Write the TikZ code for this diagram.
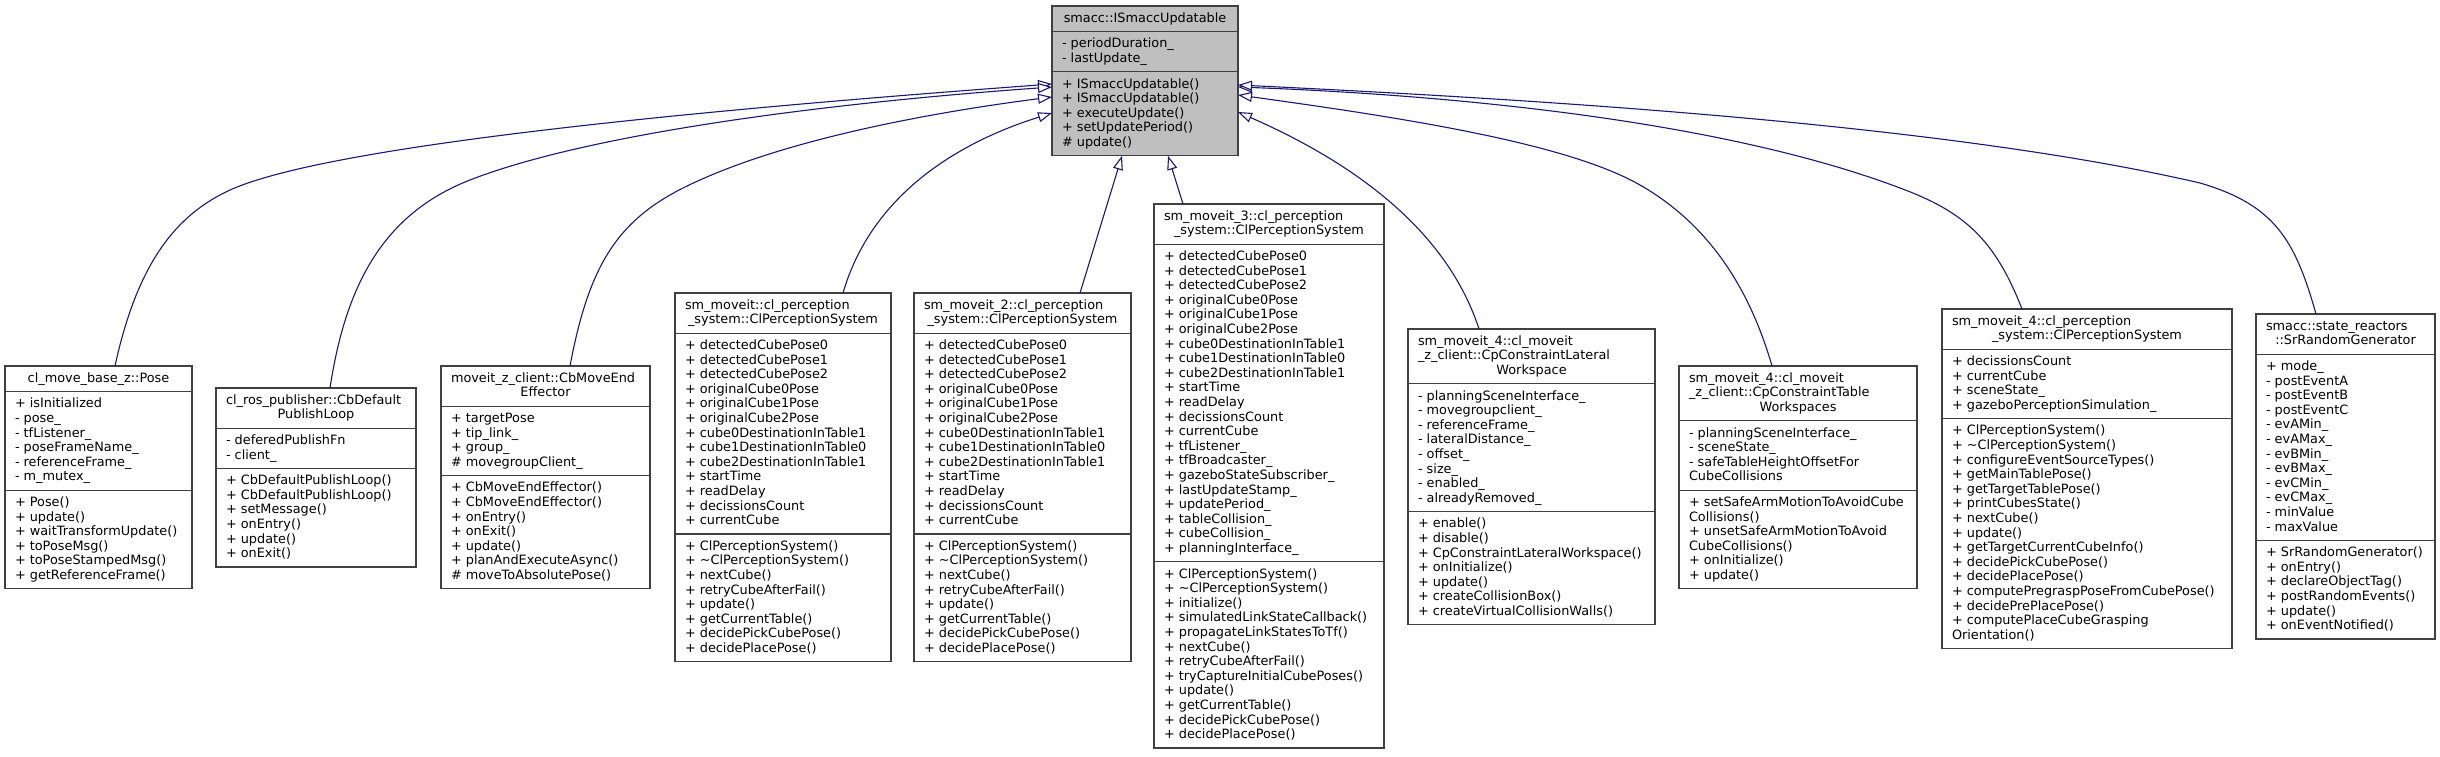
\documentclass[tikz,border=0pt]{standalone}
\usepackage{fontspec}
\setmainfont{DejaVu Sans}
\usetikzlibrary{arrows.meta,calc}
\definecolor{edgeblue}{HTML}{191970}
\definecolor{boxline}{HTML}{404040}
\definecolor{basefill}{HTML}{BFBFBF}
\newcommand\cls[1]{\vtop{\baselineskip=14.6pt\lineskiplimit=-\maxdimen\halign{##\hfil\cr#1\crcr}}}
\newcommand\ClassBox[8]{%
  \pgfmathsetmacro\hA{14.6*#5+11}%
  \pgfmathsetmacro\hB{14.6*#6+11}%
  \pgfmathsetmacro\hC{14.6*#7+11}%
  \pgfmathsetmacro\hT{\hA+\hB+\hC}%
  \node[cbox,fill=#8,minimum width=#4pt,minimum height=\hT pt,anchor=north west] (#1) at (#2,#3) {};
  \draw[cdiv] (#2,#3+\hA) -- (#2+#4,#3+\hA);
  \draw[cdiv] (#2,#3+\hA+\hB) -- (#2+#4,#3+\hA+\hB);
  \coordinate (#1-h) at (#2+10,#3+16.3);
  \coordinate (#1-hc) at (#2+#4/2,#3+16.3);
  \coordinate (#1-a) at (#2+10,#3+\hA+16.3);
  \coordinate (#1-m) at (#2+10,#3+\hA+\hB+16.3);
}
\begin{document}
\begin{tikzpicture}[x=1pt,y=-1pt,
  cbox/.style={draw=boxline,line width=1.3pt,inner sep=0pt,outer sep=0pt,rectangle},
  cdiv/.style={draw=boxline,line width=1.3pt},
  txt/.style={inner sep=0pt,outer sep=0pt,font=\fontsize{12.85}{14.6}\selectfont},
  inh/.style={draw=edgeblue,line width=1.1pt,-{Triangle[length=14pt,width=10pt,fill=white]}}]
\useasboundingbox[fill=white] (0,0) rectangle (2440,756);

% ---------- base class ----------
\ClassBox{B0}{1052}{6}{186}{1}{2}{5}{basefill}
\node[txt,anchor=base] (B0t) at (B0-hc) {smacc::ISmaccUpdatable};
\node[txt,anchor=base west] (B0a) at (B0-a) {\cls{- periodDuration\_\cr - lastUpdate\_}};
\node[txt,anchor=base west] (B0m) at (B0-m) {\cls{+ ISmaccUpdatable()\cr + ISmaccUpdatable()\cr + executeUpdate()\cr + setUpdatePeriod()\cr \# update()}};

% ---------- B1 ----------
\ClassBox{B1}{5}{366}{187}{1}{6}{6}{white}
\node[txt,anchor=base] (B1t) at (B1-hc) {cl\_move\_base\_z::Pose};
\node[txt,anchor=base west] (B1a) at (B1-a) {\cls{+ isInitialized\cr - pose\_\cr - tfListener\_\cr - poseFrameName\_\cr - referenceFrame\_\cr - m\_mutex\_}};
\node[txt,anchor=base west] (B1m) at (B1-m) {\cls{+ Pose()\cr + update()\cr + waitTransformUpdate()\cr + toPoseMsg()\cr + toPoseStampedMsg()\cr + getReferenceFrame()}};

% ---------- B2 ----------
\ClassBox{B2}{216}{388}{200}{2}{2}{6}{white}
\node[txt,anchor=base west] (B2t1) at (B2-h) {cl\_ros\_publisher::CbDefault};
\node[txt,anchor=base] (B2t2) at ($(B2-hc)+(0,14.6)$) {PublishLoop};
\node[txt,anchor=base west] (B2a) at (B2-a) {\cls{- deferedPublishFn\cr - client\_}};
\node[txt,anchor=base west] (B2m) at (B2-m) {\cls{+ CbDefaultPublishLoop()\cr + CbDefaultPublishLoop()\cr + setMessage()\cr + onEntry()\cr + update()\cr + onExit()}};

% ---------- B3 ----------
\ClassBox{B3}{441}{366}{209}{2}{4}{7}{white}
\node[txt,anchor=base west] (B3t1) at (B3-h) {moveit\_z\_client::CbMoveEnd};
\node[txt,anchor=base] (B3t2) at ($(B3-hc)+(0,14.6)$) {Effector};
\node[txt,anchor=base west] (B3a) at (B3-a) {\cls{+ targetPose\cr + tip\_link\_\cr + group\_\cr \# movegroupClient\_}};
\node[txt,anchor=base west] (B3m) at (B3-m) {\cls{+ CbMoveEndEffector()\cr + CbMoveEndEffector()\cr + onEntry()\cr + onExit()\cr + update()\cr + planAndExecuteAsync()\cr \# moveToAbsolutePose()}};

% ---------- B4 ----------
\ClassBox{B4}{675}{293}{216}{2}{13}{8}{white}
\node[txt,anchor=base west] (B4t1) at (B4-h) {sm\_moveit::cl\_perception};
\node[txt,anchor=base] (B4t2) at ($(B4-hc)+(0,14.6)$) {\_system::ClPerceptionSystem};
\node[txt,anchor=base west] (B4a) at (B4-a) {\cls{+ detectedCubePose0\cr + detectedCubePose1\cr + detectedCubePose2\cr + originalCube0Pose\cr + originalCube1Pose\cr + originalCube2Pose\cr + cube0DestinationInTable1\cr + cube1DestinationInTable0\cr + cube2DestinationInTable1\cr + startTime\cr + readDelay\cr + decissionsCount\cr + currentCube}};
\node[txt,anchor=base west] (B4m) at (B4-m) {\cls{+ ClPerceptionSystem()\cr + \textasciitilde ClPerceptionSystem()\cr + nextCube()\cr + retryCubeAfterFail()\cr + update()\cr + getCurrentTable()\cr + decidePickCubePose()\cr + decidePlacePose()}};

% ---------- B5 ----------
\ClassBox{B5}{914}{293}{217}{2}{13}{8}{white}
\node[txt,anchor=base west] (B5t1) at (B5-h) {sm\_moveit\_2::cl\_perception};
\node[txt,anchor=base] (B5t2) at ($(B5-hc)+(0,14.6)$) {\_system::ClPerceptionSystem};
\node[txt,anchor=base west] (B5a) at (B5-a) {\cls{+ detectedCubePose0\cr + detectedCubePose1\cr + detectedCubePose2\cr + originalCube0Pose\cr + originalCube1Pose\cr + originalCube2Pose\cr + cube0DestinationInTable1\cr + cube1DestinationInTable0\cr + cube2DestinationInTable1\cr + startTime\cr + readDelay\cr + decissionsCount\cr + currentCube}};
\node[txt,anchor=base west] (B5m) at (B5-m) {\cls{+ ClPerceptionSystem()\cr + \textasciitilde ClPerceptionSystem()\cr + nextCube()\cr + retryCubeAfterFail()\cr + update()\cr + getCurrentTable()\cr + decidePickCubePose()\cr + decidePlacePose()}};

% ---------- B6 ----------
\ClassBox{B6}{1154}{204}{230}{2}{21}{12}{white}
\node[txt,anchor=base west] (B6t1) at (B6-h) {sm\_moveit\_3::cl\_perception};
\node[txt,anchor=base] (B6t2) at ($(B6-hc)+(0,14.6)$) {\_system::ClPerceptionSystem};
\node[txt,anchor=base west] (B6a) at (B6-a) {\cls{+ detectedCubePose0\cr + detectedCubePose1\cr + detectedCubePose2\cr + originalCube0Pose\cr + originalCube1Pose\cr + originalCube2Pose\cr + cube0DestinationInTable1\cr + cube1DestinationInTable0\cr + cube2DestinationInTable1\cr + startTime\cr + readDelay\cr + decissionsCount\cr + currentCube\cr + tfListener\_\cr + tfBroadcaster\_\cr + gazeboStateSubscriber\_\cr + lastUpdateStamp\_\cr + updatePeriod\_\cr + tableCollision\_\cr + cubeCollision\_\cr + planningInterface\_}};
\node[txt,anchor=base west] (B6m) at (B6-m) {\cls{+ ClPerceptionSystem()\cr + \textasciitilde ClPerceptionSystem()\cr + initialize()\cr + simulatedLinkStateCallback()\cr + propagateLinkStatesToTf()\cr + nextCube()\cr + retryCubeAfterFail()\cr + tryCaptureInitialCubePoses()\cr + update()\cr + getCurrentTable()\cr + decidePickCubePose()\cr + decidePlacePose()}};

% ---------- B7 ----------
\ClassBox{B7}{1408}{329}{247}{3}{8}{7}{white}
\node[txt,anchor=base west] (B7t1) at (B7-h) {sm\_moveit\_4::cl\_moveit};
\node[txt,anchor=base west] (B7t2) at ($(B7-h)+(0,14.6)$) {\_z\_client::CpConstraintLateral};
\node[txt,anchor=base] (B7t3) at ($(B7-hc)+(0,29.2)$) {Workspace};
\node[txt,anchor=base west] (B7a) at (B7-a) {\cls{- planningSceneInterface\_\cr - movegroupclient\_\cr - referenceFrame\_\cr - lateralDistance\_\cr - offset\_\cr - size\_\cr - enabled\_\cr - alreadyRemoved\_}};
\node[txt,anchor=base west] (B7m) at (B7-m) {\cls{+ enable()\cr + disable()\cr + CpConstraintLateralWorkspace()\cr + onInitialize()\cr + update()\cr + createCollisionBox()\cr + createVirtualCollisionWalls()}};

% ---------- B8 ----------
\ClassBox{B8}{1679}{366}{238}{3}{4}{6}{white}
\node[txt,anchor=base west] (B8t1) at (B8-h) {sm\_moveit\_4::cl\_moveit};
\node[txt,anchor=base west] (B8t2) at ($(B8-h)+(0,14.6)$) {\_z\_client::CpConstraintTable};
\node[txt,anchor=base] (B8t3) at ($(B8-hc)+(0,29.2)$) {Workspaces};
\node[txt,anchor=base west] (B8a) at (B8-a) {\cls{- planningSceneInterface\_\cr - sceneState\_\cr - safeTableHeightOffsetFor\cr CubeCollisions}};
\node[txt,anchor=base west] (B8m) at (B8-m) {\cls{+ setSafeArmMotionToAvoidCube\cr Collisions()\cr + unsetSafeArmMotionToAvoid\cr CubeCollisions()\cr + onInitialize()\cr + update()}};

% ---------- B9 ----------
\ClassBox{B9}{1942}{309}{290}{2}{4}{15}{white}
\node[txt,anchor=base west] (B9t1) at (B9-h) {sm\_moveit\_4::cl\_perception};
\node[txt,anchor=base] (B9t2) at ($(B9-hc)+(0,14.6)$) {\_system::ClPerceptionSystem};
\node[txt,anchor=base west] (B9a) at (B9-a) {\cls{+ decissionsCount\cr + currentCube\cr + sceneState\_\cr + gazeboPerceptionSimulation\_}};
\node[txt,anchor=base west] (B9m) at (B9-m) {\cls{+ ClPerceptionSystem()\cr + \textasciitilde ClPerceptionSystem()\cr + configureEventSourceTypes()\cr + getMainTablePose()\cr + getTargetTablePose()\cr + printCubesState()\cr + nextCube()\cr + update()\cr + getTargetCurrentCubeInfo()\cr + decidePickCubePose()\cr + decidePlacePose()\cr + computePregraspPoseFromCubePose()\cr + decidePrePlacePose()\cr + computePlaceCubeGrasping\cr Orientation()}};

% ---------- B10 ----------
\ClassBox{B10}{2256}{314}{179}{2}{12}{6}{white}
\node[txt,anchor=base west] (B10t1) at (B10-h) {smacc::state\_reactors};
\node[txt,anchor=base] (B10t2) at ($(B10-hc)+(0,14.6)$) {::SrRandomGenerator};
\node[txt,anchor=base west] (B10a) at (B10-a) {\cls{+ mode\_\cr - postEventA\cr - postEventB\cr - postEventC\cr - evAMin\_\cr - evAMax\_\cr - evBMin\_\cr - evBMax\_\cr - evCMin\_\cr - evCMax\_\cr - minValue\cr - maxValue}};
\node[txt,anchor=base west] (B10m) at (B10-m) {\cls{+ SrRandomGenerator()\cr + onEntry()\cr + declareObjectTag()\cr + postRandomEvents()\cr + update()\cr + onEventNotified()}};

% ---------- inheritance edges ----------
\draw[inh] (B1.north -| 115,0) .. controls (138,260) and (178,214) .. (230,190) .. controls (330,145) and (700,110) .. (B0.west |- 0,84);
\draw[inh] (B2.north -| 330,0) .. controls (345,290) and (380,215) .. (470,180) .. controls (580,137) and (800,105) .. (B0.west |- 0,87);
\draw[inh] (B3.north -| 570,0) .. controls (590,260) and (620,215) .. (700,180) .. controls (800,135) and (950,110) .. (B0.west |- 0,97);
\draw[inh] (B4.north -| 843,0) .. controls (870,200) and (950,145) .. (B0.west |- 0,113);
\draw[inh] (B5.north -| 1080,0) -- (B0.south -| 1122,0);
\draw[inh] (B6.north -| 1183,0) -- (B0.south -| 1168,0);
\draw[inh] (B7.north -| 1479,0) .. controls (1450,240) and (1370,170) .. (B0.east |- 0,112);
\draw[inh] (B8.north -| 1772,0) .. controls (1750,290) and (1710,225) .. (1640,185) .. controls (1570,145) and (1420,120) .. (B0.east |- 0,95);
\draw[inh] (B9.north -| 2022,0) .. controls (1995,240) and (1965,212) .. (1900,188) .. controls (1720,120) and (1450,95) .. (B0.east |- 0,87);
\draw[inh] (B10.north -| 2316,0) .. controls (2295,240) and (2275,205) .. (2200,183) .. controls (1950,125) and (1550,100) .. (B0.east |- 0,85);
\end{tikzpicture}
\end{document}
